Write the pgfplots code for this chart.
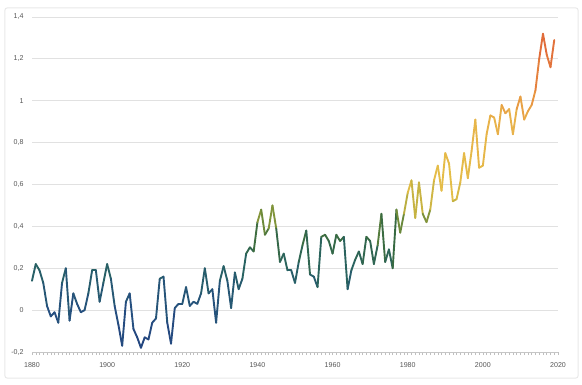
\documentclass[border=0pt]{standalone}
\usepackage{pgfplots}
\pgfplotsset{compat=1.18}
\usepackage{fontspec}
\setmainfont{Liberation Sans}
\definecolor{gridgray}{RGB}{225,225,225}
\definecolor{labgray}{RGB}{85,85,85}
\definecolor{framegray}{RGB}{232,232,232}
\begin{document}
\begin{tikzpicture}
\useasboundingbox (-32bp,-33bp) rectangle (550bp,352bp);
\draw[framegray, line width=1bp, rounded corners=2bp] (-27bp,-26bp) rectangle (546bp,344bp);
\begin{axis}[
  at={(0,0)}, anchor=south west,
  scale only axis, width=526bp, height=335bp,
  xmin=1880, xmax=2020, ymin=-0.2, ymax=1.4,
  axis x line*=bottom, axis y line*=left,
  x axis line style={gray!45, line width=0.6bp},
  y axis line style={draw=none},
  ytick={-0.2,0,0.2,0.4,0.6,0.8,1,1.2,1.4},
  ytick style={draw=none},
  ymajorgrids, grid style={gridgray, line width=0.8bp},
  xtick={1880,1900,...,2020},
  minor x tick num=19,
  tick align=outside,
  major tick length=3bp, minor tick length=3bp,
  x tick style={gray!50, line width=0.5bp},
  minor x tick style={gray!50, line width=0.5bp},
  tick label style={font=\fontsize{7.1}{8}\selectfont, text=labgray},
  xticklabel style={yshift=-4bp},
  yticklabel style={xshift=-2bp},
  /pgf/number format/assume math mode=true,
  /pgf/number format/.cd, use comma, fixed, 1000 sep={},
  /pgfplots/.cd,
  point meta min=-0.2, point meta max=1.35,
  colormap={temp}{rgb255(0cm)=(36,68,128); rgb255(20cm)=(38,80,128); rgb255(40cm)=(40,98,100); rgb255(54cm)=(56,106,66); rgb255(63cm)=(115,142,58); rgb255(72cm)=(195,178,66); rgb255(80cm)=(228,190,72); rgb255(110cm)=(232,178,74); rgb255(125cm)=(232,140,64); rgb255(155cm)=(222,96,56)},
  clip=false,
]
\addplot[mesh, point meta=y, line width=1.9bp, line cap=round, line join=round] table[x=year, y=val] {
year val
1880 0.14
1881 0.22
1882 0.19
1883 0.13
1884 0.02
1885 -0.03
1886 -0.01
1887 -0.06
1888 0.13
1889 0.20
1890 -0.05
1891 0.08
1892 0.03
1893 -0.01
1894 0.00
1895 0.08
1896 0.19
1897 0.19
1898 0.04
1899 0.13
1900 0.22
1901 0.15
1902 0.02
1903 -0.07
1904 -0.17
1905 0.04
1906 0.08
1907 -0.09
1908 -0.13
1909 -0.18
1910 -0.13
1911 -0.14
1912 -0.06
1913 -0.04
1914 0.15
1915 0.16
1916 -0.06
1917 -0.16
1918 0.01
1919 0.03
1920 0.03
1921 0.11
1922 0.02
1923 0.04
1924 0.03
1925 0.08
1926 0.20
1927 0.08
1928 0.10
1929 -0.06
1930 0.14
1931 0.21
1932 0.14
1933 0.01
1934 0.18
1935 0.10
1936 0.15
1937 0.27
1938 0.30
1939 0.28
1940 0.42
1941 0.48
1942 0.36
1943 0.39
1944 0.50
1945 0.39
1946 0.23
1947 0.27
1948 0.19
1949 0.19
1950 0.13
1951 0.23
1952 0.31
1953 0.38
1954 0.17
1955 0.16
1956 0.11
1957 0.35
1958 0.36
1959 0.33
1960 0.27
1961 0.36
1962 0.33
1963 0.35
1964 0.10
1965 0.19
1966 0.24
1967 0.28
1968 0.22
1969 0.35
1970 0.33
1971 0.22
1972 0.31
1973 0.46
1974 0.23
1975 0.29
1976 0.20
1977 0.48
1978 0.37
1979 0.46
1980 0.56
1981 0.62
1982 0.44
1983 0.61
1984 0.46
1985 0.42
1986 0.48
1987 0.62
1988 0.69
1989 0.57
1990 0.75
1991 0.70
1992 0.52
1993 0.53
1994 0.61
1995 0.75
1996 0.63
1997 0.76
1998 0.91
1999 0.68
2000 0.69
2001 0.84
2002 0.93
2003 0.92
2004 0.84
2005 0.98
2006 0.94
2007 0.96
2008 0.84
2009 0.96
2010 1.02
2011 0.91
2012 0.95
2013 0.98
2014 1.05
2015 1.20
2016 1.32
2017 1.22
2018 1.16
2019 1.29
};
\end{axis}
\end{tikzpicture}
\end{document}
